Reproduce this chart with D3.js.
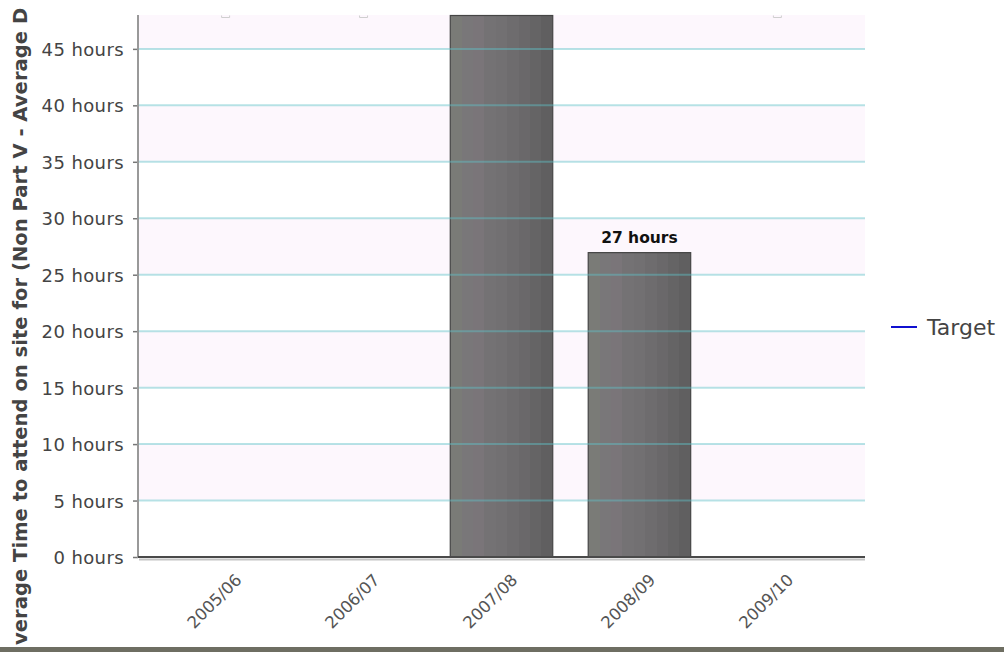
<!DOCTYPE html>
<html>
<head>
<meta charset="utf-8">
<script src="https://cdn.jsdelivr.net/npm/d3@7"></script>
<style>
  html, body { margin: 0; padding: 0; background: #fff; }
  svg { display: block; }
</style>
</head>
<body>
<div id="chart"></div>
<script>
// Response time per financial year
const categories = ["2005/06", "2006/07", "2007/08", "2008/09", "2009/10"];
const values = [null, null, 48, 27, null];
const valueLabels = [null, null, null, "27 hours", null];
const yTicks = [0, 5, 10, 15, 20, 25, 30, 35, 40, 45];
const yMax = 48;
const yTitle = "Average Time to attend on site for (Non Part V - Average D";
const legendItems = ["Target"];

const W = 1004, H = 652;
const plotLeft = 138, plotRight = 865, plotTop = 15, plotBottom = 557;
const font = "'DejaVu Sans', Verdana, sans-serif";

const svg = d3.select("#chart").append("svg")
  .attr("width", W).attr("height", H);

const defs = svg.append("defs");
// banded grey shading across each column
const grad = defs.append("linearGradient").attr("id", "barGrad")
  .attr("x1", "0").attr("x2", "1").attr("y1", "0").attr("y2", "0");
const bands = ["#7a7b77", "#797779", "#7a7579", "#747274", "#727072", "#6e6c6e", "#6a686a", "#656465", "#605f60"];
bands.forEach((c, i) => {
  grad.append("stop").attr("offset", i / bands.length).attr("stop-color", c);
  grad.append("stop").attr("offset", (i + 1) / bands.length).attr("stop-color", c);
});

const x = d3.scaleBand().domain(categories).range([plotLeft, plotRight])
  .paddingInner(0.25).paddingOuter(0.26);
const y = d3.scaleLinear().domain([0, yMax]).range([plotBottom, plotTop]);

// alternating plot background bands
const bandEdges = yTicks.concat([yMax]);
const bg = svg.append("g");
for (let i = 0; i < bandEdges.length - 1; i++) {
  bg.append("rect")
    .attr("x", plotLeft).attr("width", plotRight - plotLeft)
    .attr("y", y(bandEdges[i + 1])).attr("height", y(bandEdges[i]) - y(bandEdges[i + 1]))
    .attr("fill", i % 2 === 1 ? "#fdf7fd" : "#ffffff");
}

// bars
svg.append("g").selectAll("rect")
  .data(categories.map((c, i) => ({ c, v: values[i] })).filter(d => d.v != null))
  .join("rect")
  .attr("x", d => x(d.c) + 0.5)
  .attr("y", d => y(d.v) + 0.5)
  .attr("width", x.bandwidth() - 1)
  .attr("height", d => y(0) - y(d.v) - 0.5)
  .attr("fill", "url(#barGrad)")
  .attr("stroke", "#454545")
  .attr("stroke-width", 1.2);

// horizontal gridlines, drawn over the columns
svg.append("g").selectAll("line")
  .data(yTicks.filter(t => t > 0))
  .join("line")
  .attr("x1", plotLeft + 1).attr("x2", plotRight)
  .attr("y1", d => y(d)).attr("y2", d => y(d))
  .attr("stroke", "#5fc0c8").attr("stroke-opacity", 0.45).attr("stroke-width", 2);

// small placeholder marks for empty years
svg.append("g").selectAll("path")
  .data(categories.filter((c, i) => values[i] == null))
  .join("path")
  .attr("d", d => {
    const cx = x(d) + x.bandwidth() / 2;
    return `M${cx - 4},15.5 v2 h8 v-2`;
  })
  .attr("fill", "none").attr("stroke", "#cfcfcf").attr("stroke-width", 1);

// y axis
const yAxis = svg.append("g").attr("transform", `translate(${plotLeft},0)`)
  .call(d3.axisLeft(y).tickValues(yTicks).tickSize(5).tickFormat(d => d + " hours"));
yAxis.select(".domain").remove();
yAxis.selectAll(".tick line").attr("stroke", "#777").attr("stroke-width", 1.5);
yAxis.selectAll(".tick text")
  .attr("x", -14).attr("dy", "0.36em")
  .attr("fill", "#444")
  .style("font-family", font)
  .style("font-size", "18px")
  .style("letter-spacing", "0.4px");
svg.append("line")
  .attr("x1", plotLeft).attr("x2", plotLeft).attr("y1", plotTop).attr("y2", plotBottom + 1)
  .attr("stroke", "#999").attr("stroke-width", 2);

// x axis baseline with soft shadow
svg.append("line")
  .attr("x1", plotLeft + 1).attr("x2", plotRight).attr("y1", plotBottom + 2.5).attr("y2", plotBottom + 2.5)
  .attr("stroke", "#c4c4c4").attr("stroke-width", 2);
svg.append("line")
  .attr("x1", plotLeft).attr("x2", plotRight).attr("y1", plotBottom).attr("y2", plotBottom)
  .attr("stroke", "#4a4a4a").attr("stroke-width", 2);

// x labels, rotated
const xAxis = svg.append("g").attr("transform", `translate(0,${plotBottom})`)
  .call(d3.axisBottom(x).tickSize(0));
xAxis.select(".domain").remove();
xAxis.selectAll(".tick text")
  .attr("text-anchor", "end")
  .attr("y", 0).attr("dy", 0)
  .attr("transform", "translate(17,24) rotate(-45)")
  .attr("fill", "#555")
  .style("font-family", font)
  .style("font-size", "16.5px");

// value labels
svg.append("g").selectAll("text")
  .data(categories.map((c, i) => ({ c, v: values[i], t: valueLabels[i] })).filter(d => d.t))
  .join("text")
  .attr("x", d => x(d.c) + x.bandwidth() / 2)
  .attr("y", d => y(d.v) - 9)
  .attr("text-anchor", "middle")
  .attr("fill", "#111")
  .style("font-family", font)
  .style("font-weight", "bold")
  .style("font-size", "15.5px")
  .text(d => d.t);

// y axis title
svg.append("text")
  .attr("transform", "translate(27,645) rotate(-90)")
  .attr("text-anchor", "start")
  .attr("fill", "#444")
  .style("font-family", font)
  .style("font-weight", "bold")
  .style("font-size", "19.6px")
  .text(yTitle.slice(1));

// legend
const lg = svg.append("g").attr("transform", "translate(891,327)");
legendItems.forEach((name, i) => {
  lg.append("line").attr("x1", 0).attr("x2", 26).attr("y1", i * 24).attr("y2", i * 24)
    .attr("stroke", "#1010d0").attr("stroke-width", 2);
  lg.append("text").attr("x", 36).attr("y", i * 24).attr("dy", "0.36em")
    .attr("fill", "#444")
    .style("font-family", font)
    .style("font-size", "22px")
    .text(name);
});

// bottom frame strip
svg.append("rect").attr("x", 0).attr("y", 647).attr("width", W).attr("height", 5)
  .attr("fill", "#6e6e62");
</script>
</body>
</html>
